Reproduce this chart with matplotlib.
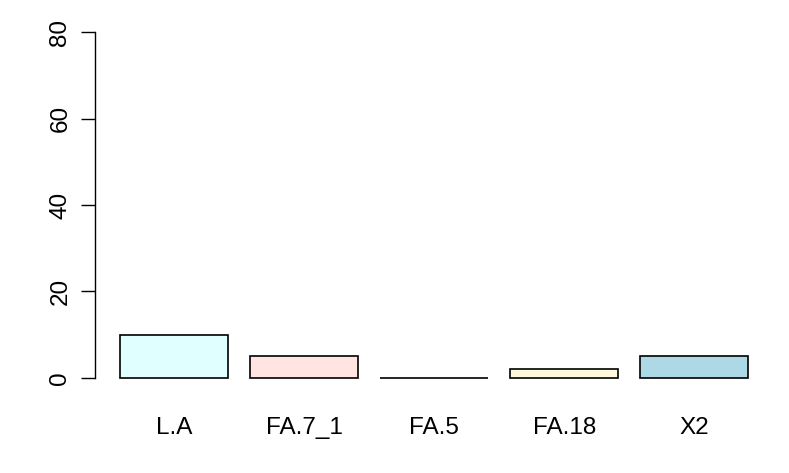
import matplotlib
matplotlib.use("Agg")
import matplotlib.pyplot as plt
import numpy as np

plt.rcParams["font.family"] = ["Liberation Sans", "DejaVu Sans"]

# dane
categories = ["L.A", "FA.7_1", "FA.5", "FA.18", "X2"]
values = [10, 5, 0, 2, 5]
colors = ["#E0FFFF", "#FFE4E1", "#F0F0F0", "#FFF8DC", "#ADD8E6"]
y_ticks = [0, 20, 40, 60, 80]

fig = plt.figure(figsize=(7.89, 4.73), dpi=100)
ax = fig.add_axes([95 / 789, (473 - 391.8) / 473, (773.5 - 95) / 789, (391.8 - 18.2) / 473])

# układ jak w R barplot: szerokość 1, odstęp 0.2
x = 0.2 + 1.2 * np.arange(len(categories))
ax.bar(x, values, width=1.0, align="edge", color=colors, edgecolor="black", linewidth=1.2)

ax.set_xlim(-0.032, 6.232)
ax.set_ylim(-3.2, 83.2)

for s in ["top", "right", "bottom"]:
    ax.spines[s].set_visible(False)
ax.spines["left"].set_bounds(0, 80)
ax.spines["left"].set_linewidth(1.0)

ax.set_yticks(y_ticks)
ax.set_yticklabels([str(t) for t in y_ticks], rotation=90, va="center", fontsize=17.5)
ax.tick_params(axis="y", length=10, width=1.0, pad=7)

ax.set_xticks(x + 0.5)
ax.set_xticklabels(categories, fontsize=17.5)
ax.tick_params(axis="x", length=0, pad=18)

fig.savefig("out.png", dpi=100)
